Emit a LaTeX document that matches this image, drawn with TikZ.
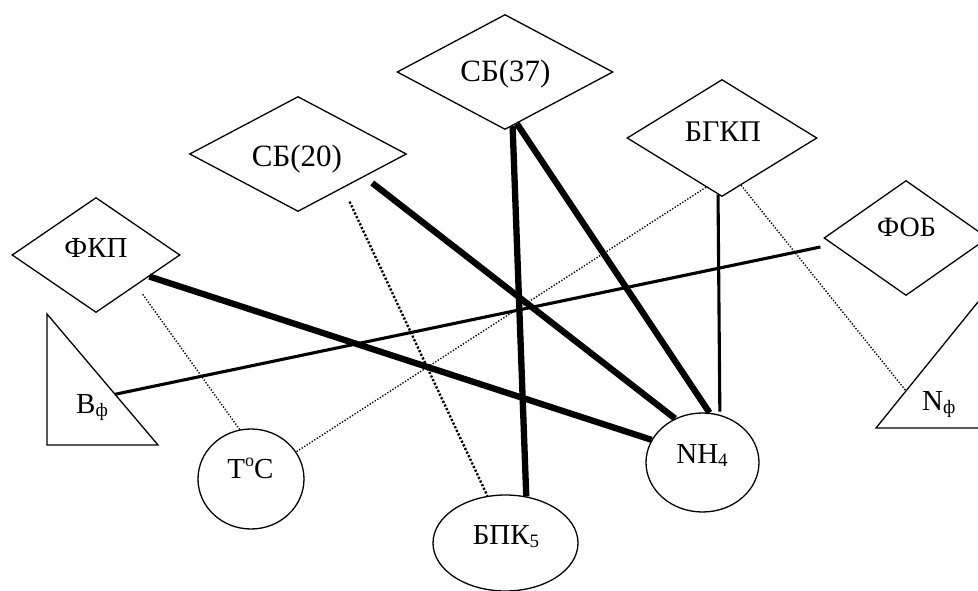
\documentclass[tikz,border=0pt]{standalone}
\usepackage{fontspec}
\setmainfont{Liberation Serif}
\usetikzlibrary{shapes.geometric,calc}
\newcommand\fsz[1]{\fontsize{#1}{#1}\selectfont}
\newcommand\sbs[1]{\raisebox{-3.5pt}{\fsz{19}#1}}
\tikzset{
  outl/.style={draw, line width=1.3pt},
  dia/.style={diamond, outl, inner sep=0pt},
  ell/.style={ellipse, outl, inner sep=0pt},
  lbl/.style={inner sep=0pt, anchor=base, font=\fsz{29}},
  thk/.style={line width=6.3pt},
  med/.style={line width=3.1pt},
  dotthin/.style={line width=1.4pt, dash pattern=on 1.3pt off 1.7pt},
  dotthick/.style={line width=2.4pt, dash pattern=on 2.2pt off 1.8pt},
}
\begin{document}
\begin{tikzpicture}[x=1pt,y=-1pt]
\clip (0,0) rectangle (978,591);
\fill[white] (0,0) rectangle (978,591);
% diamonds
\node[dia, minimum width=168pt, minimum height=115pt] (fkp) at (96,255) {};
\node[dia, minimum width=217pt, minimum height=115pt] (sb20) at (298,154) {};
\node[dia, minimum width=216pt, minimum height=115pt] (sb37) at (505,72) {};
\node[dia, minimum width=190pt, minimum height=117pt] (bgkp) at (722,138) {};
\node[dia, minimum width=164pt, minimum height=115pt] (fob) at (906,238) {};
% ellipses
\node[ell, minimum width=106pt, minimum height=100pt] (toc) at (251,479) {};
\node[ell, minimum width=113pt, minimum height=99pt] (nh4) at (702.5,462.5) {};
\node[ell, minimum width=145pt, minimum height=96pt] (bpk) at (505.5,543) {};
% triangles
\coordinate (bA) at (47,314);
\coordinate (bB) at (47,445);
\coordinate (bC) at (158,445);
\draw[line width=1.3pt] (bA) -- (bB) -- (bC) -- cycle;
\coordinate (nA) at (876,428);
\coordinate (nB) at (982,428);
\coordinate (nC) at (982,297);
\draw[line width=1.3pt] (nA) -- (nB) -- (nC) -- cycle;
\coordinate (bphiH) at ($(bA)!0.613!(bC)$);
\coordinate (nphiH) at ($(nA)!0.283!(nC)$);
% labels
\node[lbl] (fkpT) at (96,258) {ФКП};
\node[lbl, font=\fsz{31}] (sb20T) at (297,167) {СБ(20)};
\node[lbl, font=\fsz{31}] (sb37T) at (505.5,82) {СБ(37)};
\node[lbl, font=\fsz{30}] (bgkpT) at (723,141.5) {БГКП};
\node[lbl, font=\fsz{28}] (fobT) at (906.5,236.5) {ФОБ};
\node[lbl, anchor=base west] (bphiT) at (76,413) {B\sbs{ф}};
\node[lbl, anchor=base west] (nphiT) at (922,410) {N\sbs{ф}};
\node[lbl] (tocT) at (250.5,478) {T\raisebox{11.5pt}{\fsz{18}o}C};
\node[lbl] (nh4T) at (702,463) {NH\sbs{4}};
\node[lbl, font=\fsz{29}] (bpkT) at (506,544) {БПК\sbs{5}};
% connectors
\draw[thk] (fkp.-22) -- (nh4.156);
\draw[thk, shorten <=10pt] (sb20.-19) -- (nh4.122);
\draw[thk] (sb37.-77) -- (nh4.82);
\draw[thk] (sb37.-82) -- (bpk.66);
\draw[med, shorten >=3pt] (bgkp.-94) -- (nh4.70);
\draw[med] ([xshift=-3pt,yshift=-9pt]fob.west) -- (bphiH);
\draw[dotthin, shorten <=11pt] (fkp.-37) -- (toc.103);
\draw[dotthick, shorten <=15pt] (sb20.-37) -- (bpk.111);
\draw[dotthin] (bgkp.-108) -- (toc.31);
\draw[dotthin] (bgkp.-68) -- (nphiH);
\end{tikzpicture}
\end{document}
